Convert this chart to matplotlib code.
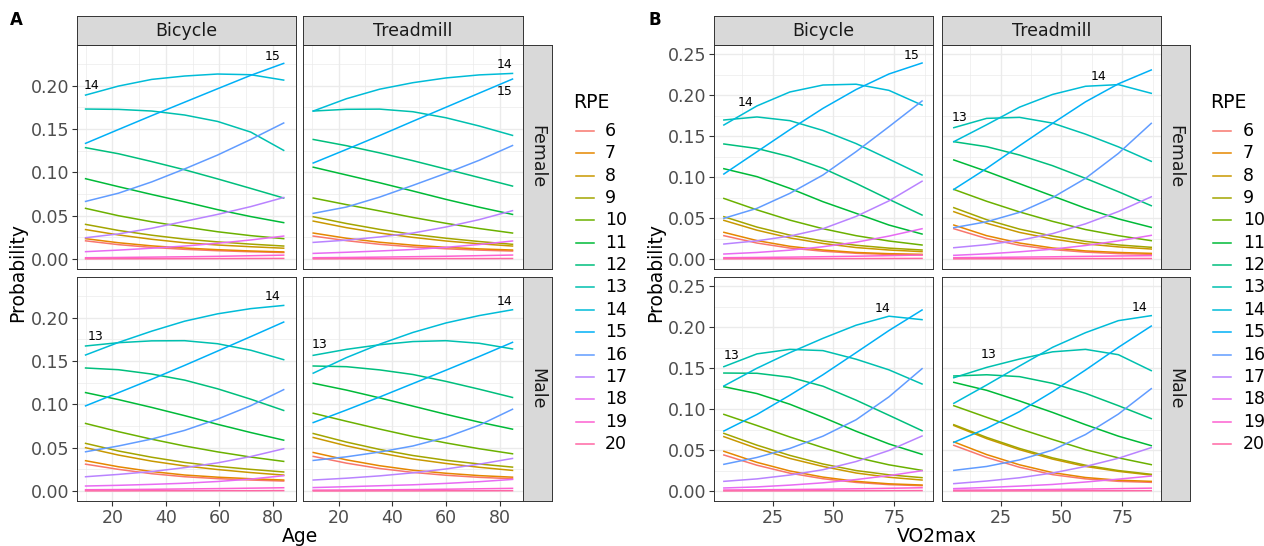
import matplotlib
matplotlib.use("Agg")
import matplotlib.pyplot as plt
from matplotlib.lines import Line2D

W, H = 1264, 546

rpe_levels = [6, 7, 8, 9, 10, 11, 12, 13, 14, 15, 16, 17, 18, 19, 20]
rpe_colors = ["#F8766D", "#E58700", "#C99800", "#A3A500", "#6BB100",
              "#00BA38", "#00BF7D", "#00C0AF", "#00BCD8", "#00B0F6",
              "#619CFF", "#B983FF", "#E76BF3", "#FD61D1", "#FF67A4"]

# x positions where the curves were read
age_bike = [10.0, 22.3, 34.7, 47.0, 59.3, 71.7, 84.0]
age_tread = [10.6, 22.95, 35.3, 47.65, 60.0, 72.35, 84.7]
vo2_bike = [5.0, 18.6, 32.1, 45.7, 59.3, 72.8, 86.4]
vo2_tread = [5.8, 19.3, 32.8, 46.35, 59.9, 73.4, 86.9]

# A: Age, one dict per facet, RPE -> probability
age_bike_female = {
    6: [0.0210, 0.0166, 0.0134, 0.0112, 0.0096, 0.0084, 0.0075],
    7: [0.0235, 0.0188, 0.0152, 0.0127, 0.0108, 0.0093, 0.0082],
    8: [0.0340, 0.0278, 0.0228, 0.0188, 0.0162, 0.0142, 0.0125],
    9: [0.0400, 0.0330, 0.0275, 0.0230, 0.0198, 0.0172, 0.0150],
    10: [0.0585, 0.0500, 0.0430, 0.0370, 0.0315, 0.0270, 0.0235],
    11: [0.0927, 0.0835, 0.0745, 0.0660, 0.0570, 0.0490, 0.0420],
    12: [0.1285, 0.1215, 0.1125, 0.1030, 0.0925, 0.0815, 0.0704],
    13: [0.1731, 0.1727, 0.1708, 0.1662, 0.1588, 0.1465, 0.1254],
    14: [0.1892, 0.1996, 0.2073, 0.2112, 0.2135, 0.2127, 0.2065],
    15: [0.1335, 0.1495, 0.1655, 0.1810, 0.1965, 0.2120, 0.2258],
    16: [0.0665, 0.0760, 0.0890, 0.1040, 0.1200, 0.1380, 0.1570],
    17: [0.0246, 0.0290, 0.0355, 0.0435, 0.0515, 0.0605, 0.0710],
    18: [0.0085, 0.0103, 0.0125, 0.0150, 0.0182, 0.0220, 0.0265],
    19: [0.0015, 0.0018, 0.0022, 0.0026, 0.0031, 0.0038, 0.0045],
    20: [0.0002, 0.0003, 0.0003, 0.0004, 0.0005, 0.0006, 0.0007],
}
age_tread_female = {
    6: [0.0265, 0.0212, 0.0170, 0.0140, 0.0118, 0.0103, 0.0092],
    7: [0.0300, 0.0240, 0.0194, 0.0160, 0.0135, 0.0117, 0.0104],
    8: [0.0438, 0.0362, 0.0300, 0.0250, 0.0208, 0.0176, 0.0150],
    9: [0.0488, 0.0410, 0.0342, 0.0285, 0.0240, 0.0202, 0.0170],
    10: [0.0704, 0.0628, 0.0555, 0.0480, 0.0412, 0.0352, 0.0300],
    11: [0.1060, 0.0970, 0.0880, 0.0785, 0.0688, 0.0598, 0.0515],
    12: [0.1380, 0.1308, 0.1225, 0.1135, 0.1038, 0.0940, 0.0842],
    13: [0.1708, 0.1728, 0.1730, 0.1700, 0.1630, 0.1535, 0.1427],
    14: [0.1708, 0.1850, 0.1960, 0.2035, 0.2090, 0.2125, 0.2142],
    15: [0.1108, 0.1265, 0.1425, 0.1590, 0.1752, 0.1915, 0.2077],
    16: [0.0527, 0.0600, 0.0715, 0.0850, 0.0990, 0.1140, 0.1310],
    17: [0.0192, 0.0218, 0.0255, 0.0300, 0.0370, 0.0455, 0.0558],
    18: [0.0065, 0.0078, 0.0093, 0.0110, 0.0135, 0.0168, 0.0208],
    19: [0.0015, 0.0018, 0.0022, 0.0027, 0.0032, 0.0039, 0.0046],
    20: [0.0002, 0.0003, 0.0003, 0.0004, 0.0005, 0.0005, 0.0006],
}
age_bike_male = {
    6: [0.0310, 0.0250, 0.0200, 0.0165, 0.0143, 0.0127, 0.0115],
    7: [0.0350, 0.0280, 0.0225, 0.0185, 0.0160, 0.0142, 0.0127],
    8: [0.0500, 0.0415, 0.0345, 0.0290, 0.0248, 0.0213, 0.0184],
    9: [0.0550, 0.0462, 0.0390, 0.0330, 0.0285, 0.0250, 0.0220],
    10: [0.0780, 0.0685, 0.0598, 0.0520, 0.0452, 0.0392, 0.0342],
    11: [0.1136, 0.1055, 0.0965, 0.0870, 0.0770, 0.0675, 0.0587],
    12: [0.1420, 0.1400, 0.1350, 0.1280, 0.1180, 0.1060, 0.0930],
    13: [0.1674, 0.1712, 0.1733, 0.1735, 0.1700, 0.1625, 0.1516],
    14: [0.1570, 0.1715, 0.1845, 0.1960, 0.2045, 0.2105, 0.2142],
    15: [0.0983, 0.1135, 0.1290, 0.1450, 0.1615, 0.1782, 0.1950],
    16: [0.0453, 0.0520, 0.0600, 0.0700, 0.0830, 0.0985, 0.1170],
    17: [0.0165, 0.0192, 0.0225, 0.0270, 0.0325, 0.0398, 0.0488],
    18: [0.0058, 0.0066, 0.0077, 0.0090, 0.0110, 0.0138, 0.0177],
    19: [0.0015, 0.0017, 0.0020, 0.0024, 0.0028, 0.0033, 0.0038],
    20: [0.0002, 0.0002, 0.0003, 0.0003, 0.0004, 0.0004, 0.0005],
}
age_tread_male = {
    6: [0.0400, 0.0322, 0.0260, 0.0215, 0.0182, 0.0158, 0.0142],
    7: [0.0445, 0.0360, 0.0292, 0.0240, 0.0205, 0.0178, 0.0160],
    8: [0.0618, 0.0522, 0.0440, 0.0370, 0.0318, 0.0274, 0.0238],
    9: [0.0664, 0.0565, 0.0480, 0.0410, 0.0355, 0.0312, 0.0276],
    10: [0.0898, 0.0805, 0.0715, 0.0630, 0.0555, 0.0488, 0.0430],
    11: [0.1244, 0.1165, 0.1075, 0.0980, 0.0885, 0.0795, 0.0714],
    12: [0.1443, 0.1435, 0.1398, 0.1345, 0.1265, 0.1175, 0.1080],
    13: [0.1566, 0.1635, 0.1688, 0.1725, 0.1735, 0.1705, 0.1640],
    14: [0.1360, 0.1540, 0.1695, 0.1830, 0.1940, 0.2025, 0.2092],
    15: [0.0790, 0.0935, 0.1085, 0.1240, 0.1395, 0.1553, 0.1716],
    16: [0.0353, 0.0395, 0.0450, 0.0520, 0.0620, 0.0760, 0.0944],
    17: [0.0127, 0.0148, 0.0175, 0.0210, 0.0255, 0.0310, 0.0376],
    18: [0.0040, 0.0050, 0.0061, 0.0072, 0.0088, 0.0108, 0.0134],
    19: [0.0010, 0.0012, 0.0014, 0.0017, 0.0021, 0.0026, 0.0031],
    20: [0.0001, 0.0001, 0.0002, 0.0002, 0.0003, 0.0003, 0.0004],
}

# B: VO2max
vo2_bike_female = {
    6: [0.0285, 0.0195, 0.0134, 0.0095, 0.0070, 0.0056, 0.0049],
    7: [0.0326, 0.0225, 0.0155, 0.0110, 0.0080, 0.0065, 0.0057],
    8: [0.0472, 0.0352, 0.0258, 0.0190, 0.0140, 0.0110, 0.0090],
    9: [0.0517, 0.0390, 0.0292, 0.0220, 0.0168, 0.0133, 0.0110],
    10: [0.0740, 0.0600, 0.0475, 0.0370, 0.0285, 0.0220, 0.0171],
    11: [0.1103, 0.1006, 0.0863, 0.0700, 0.0558, 0.0415, 0.0305],
    12: [0.1405, 0.1350, 0.1250, 0.1108, 0.0924, 0.0729, 0.0537],
    13: [0.1698, 0.1735, 0.1690, 0.1570, 0.1410, 0.1220, 0.1026],
    14: [0.1637, 0.1870, 0.2040, 0.2125, 0.2135, 0.2060, 0.1880],
    15: [0.1038, 0.1310, 0.1580, 0.1840, 0.2070, 0.2260, 0.2394],
    16: [0.0497, 0.0619, 0.0802, 0.1026, 0.1311, 0.1616, 0.1930],
    17: [0.0183, 0.0222, 0.0280, 0.0370, 0.0520, 0.0710, 0.0950],
    18: [0.0061, 0.0080, 0.0108, 0.0150, 0.0205, 0.0280, 0.0370],
    19: [0.0016, 0.0019, 0.0023, 0.0028, 0.0034, 0.0041, 0.0049],
    20: [0.0002, 0.0003, 0.0003, 0.0004, 0.0005, 0.0006, 0.0007],
}
vo2_tread_female = {
    6: [0.0370, 0.0250, 0.0168, 0.0115, 0.0084, 0.0066, 0.0057],
    7: [0.0415, 0.0285, 0.0195, 0.0135, 0.0099, 0.0080, 0.0069],
    8: [0.0578, 0.0437, 0.0325, 0.0245, 0.0185, 0.0148, 0.0122],
    9: [0.0627, 0.0480, 0.0365, 0.0280, 0.0215, 0.0172, 0.0143],
    10: [0.0850, 0.0705, 0.0575, 0.0460, 0.0360, 0.0285, 0.0224],
    11: [0.1210, 0.1070, 0.0920, 0.0770, 0.0620, 0.0490, 0.0387],
    12: [0.1433, 0.1372, 0.1270, 0.1140, 0.0985, 0.0822, 0.0651],
    13: [0.1604, 0.1718, 0.1730, 0.1660, 0.1525, 0.1370, 0.1193],
    14: [0.1433, 0.1640, 0.1855, 0.2010, 0.2110, 0.2130, 0.2024],
    15: [0.0850, 0.1107, 0.1384, 0.1657, 0.1920, 0.2140, 0.2309],
    16: [0.0383, 0.0455, 0.0570, 0.0750, 0.0985, 0.1290, 0.1657],
    17: [0.0138, 0.0175, 0.0228, 0.0310, 0.0430, 0.0580, 0.0760],
    18: [0.0045, 0.0063, 0.0088, 0.0120, 0.0165, 0.0222, 0.0289],
    19: [0.0016, 0.0019, 0.0023, 0.0027, 0.0032, 0.0037, 0.0041],
    20: [0.0002, 0.0003, 0.0003, 0.0004, 0.0005, 0.0005, 0.0006],
}
vo2_bike_male = {
    6: [0.0440, 0.0315, 0.0218, 0.0150, 0.0105, 0.0078, 0.0065],
    7: [0.0485, 0.0350, 0.0245, 0.0170, 0.0118, 0.0088, 0.0073],
    8: [0.0664, 0.0520, 0.0398, 0.0300, 0.0220, 0.0168, 0.0134],
    9: [0.0704, 0.0560, 0.0435, 0.0330, 0.0250, 0.0198, 0.0163],
    10: [0.0936, 0.0800, 0.0660, 0.0530, 0.0410, 0.0320, 0.0252],
    11: [0.1274, 0.1190, 0.1060, 0.0900, 0.0730, 0.0575, 0.0448],
    12: [0.1441, 0.1438, 0.1390, 0.1280, 0.1110, 0.0925, 0.0737],
    13: [0.1519, 0.1675, 0.1730, 0.1715, 0.1610, 0.1480, 0.1307],
    14: [0.1283, 0.1500, 0.1690, 0.1865, 0.2025, 0.2135, 0.2093],
    15: [0.0733, 0.0935, 0.1170, 0.1420, 0.1690, 0.1960, 0.2211],
    16: [0.0326, 0.0410, 0.0520, 0.0670, 0.0870, 0.1150, 0.1494],
    17: [0.0118, 0.0148, 0.0195, 0.0260, 0.0360, 0.0495, 0.0672],
    18: [0.0037, 0.0050, 0.0072, 0.0100, 0.0140, 0.0188, 0.0248],
    19: [0.0012, 0.0015, 0.0018, 0.0022, 0.0027, 0.0033, 0.0040],
    20: [0.0001, 0.0002, 0.0002, 0.0003, 0.0003, 0.0004, 0.0005],
}
vo2_tread_male = {
    6: [0.0558, 0.0410, 0.0290, 0.0200, 0.0148, 0.0118, 0.0106],
    7: [0.0600, 0.0445, 0.0320, 0.0225, 0.0165, 0.0132, 0.0118],
    8: [0.0800, 0.0640, 0.0505, 0.0390, 0.0300, 0.0240, 0.0195],
    9: [0.0810, 0.0655, 0.0520, 0.0405, 0.0315, 0.0250, 0.0204],
    10: [0.1042, 0.0900, 0.0760, 0.0630, 0.0505, 0.0405, 0.0322],
    11: [0.1327, 0.1230, 0.1100, 0.0960, 0.0810, 0.0670, 0.0554],
    12: [0.1405, 0.1420, 0.1397, 0.1315, 0.1193, 0.1042, 0.0884],
    13: [0.1384, 0.1510, 0.1612, 0.1700, 0.1730, 0.1665, 0.1470],
    14: [0.1071, 0.1295, 0.1527, 0.1755, 0.1934, 0.2081, 0.2142],
    15: [0.0594, 0.0765, 0.0970, 0.1213, 0.1478, 0.1755, 0.2015],
    16: [0.0252, 0.0300, 0.0380, 0.0500, 0.0690, 0.0940, 0.1250],
    17: [0.0090, 0.0122, 0.0162, 0.0220, 0.0300, 0.0400, 0.0530],
    18: [0.0029, 0.0043, 0.0060, 0.0080, 0.0110, 0.0145, 0.0183],
    19: [0.0010, 0.0012, 0.0015, 0.0019, 0.0024, 0.0029, 0.0035],
    20: [0.0001, 0.0001, 0.0002, 0.0002, 0.0003, 0.0003, 0.0004],
}

# curve labels (text, x, y)
labels_age_bike_female = [("14", 12.4, 0.2008), ("15", 79.9, 0.2340)]
labels_age_tread_female = [("14", 81.9, 0.2246), ("15", 81.9, 0.1938)]
labels_age_bike_male = [("13", 13.7, 0.1785), ("14", 79.9, 0.2246)]
labels_age_tread_male = [("13", 12.9, 0.1689), ("14", 81.9, 0.2192)]
labels_vo2_bike_female = [("14", 14.0, 0.1910), ("15", 82.2, 0.2484)]
labels_vo2_tread_female = [("13", 8.1, 0.1730), ("14", 65.2, 0.2235)]
labels_vo2_bike_male = [("13", 8.1, 0.1660), ("14", 70.2, 0.2231)]
labels_vo2_tread_male = [("13", 20.2, 0.1670), ("14", 82.2, 0.2240)]

BORDER = "#333333"
GRID = "#EBEBEB"
TICK_TXT = "#4D4D4D"


def box(x0, y0, x1, y1):
    return [x0 / W, 1 - y1 / H, (x1 - x0) / W, (y1 - y0) / H]


def strip(fig, x0, y0, x1, y1, text, rotation=0):
    ax = fig.add_axes(box(x0, y0, x1, y1))
    ax.set_facecolor("#D9D9D9")
    ax.set_xticks([])
    ax.set_yticks([])
    for s in ax.spines.values():
        s.set_color(BORDER)
        s.set_linewidth(0.7)
    ax.text(0.5, 0.5, text, ha="center", va="center", rotation=rotation,
            fontsize=12.5, color="#1A1A1A", transform=ax.transAxes)


def panel(fig, rect, xs, data, labels, xlim, ylim, xmaj, xmin_, ymaj, ymin_,
          show_x, show_y):
    ax = fig.add_axes(box(*rect))
    for rpe, col in zip(rpe_levels, rpe_colors):
        ax.plot(xs, data[rpe], color=col, lw=1.1, solid_joinstyle="round")
    for txt, lx, ly in labels:
        ax.text(lx, ly, txt, ha="center", va="center", fontsize=9, color="black")
    ax.set_xlim(xlim)
    ax.set_ylim(ylim)
    ax.set_xticks(xmaj)
    ax.set_xticks(xmin_, minor=True)
    ax.set_yticks(ymaj)
    ax.set_yticks(ymin_, minor=True)
    ax.grid(True, which="major", color=GRID, lw=1.0)
    ax.grid(True, which="minor", color=GRID, lw=0.5)
    ax.set_axisbelow(True)
    ax.tick_params(which="minor", length=0)
    ax.tick_params(which="major", length=3.5, width=0.8, color=BORDER,
                   labelsize=12.5, labelcolor=TICK_TXT, pad=2)
    if not show_x:
        ax.tick_params(axis="x", which="major", length=0, labelbottom=False)
    if not show_y:
        ax.tick_params(axis="y", which="major", length=0, labelleft=False)
    else:
        ax.set_yticklabels(["%.2f" % v for v in ymaj])
    for s in ax.spines.values():
        s.set_color(BORDER)
        s.set_linewidth(0.7)
    return ax


def legend(fig, x_key, x_txt):
    fig.text(x_key / W, 1 - 102 / H, "RPE", fontsize=13.5, color="black",
             ha="left", va="center")
    for i, (rpe, col) in enumerate(zip(rpe_levels, rpe_colors)):
        y = 1 - (131 + i * 22.35) / H
        fig.add_artist(Line2D([(x_key + 3) / W, (x_key + 21) / W], [y, y],
                              color=col, lw=1.1))
        fig.text(x_txt / W, y, str(rpe), fontsize=12.5, color="black",
                 ha="left", va="center")


fig = plt.figure(figsize=(W / 100, H / 100), dpi=100)

rows = [(45, 269), (277, 501)]

# ---- panel A ----
a_cols = [(77, 296), (303, 523)]
a_xlim = (6.8, 88.6)
a_ylim = (-0.0115, 0.247)
a_xmaj = [20, 40, 60, 80]
a_xmin = [10, 30, 50, 70]
a_ymaj = [0.0, 0.05, 0.10, 0.15, 0.20]
a_ymin = [0.025, 0.075, 0.125, 0.175, 0.225]
a_sets = [
    [(age_bike, age_bike_female, labels_age_bike_female),
     (age_tread, age_tread_female, labels_age_tread_female)],
    [(age_bike, age_bike_male, labels_age_bike_male),
     (age_tread, age_tread_male, labels_age_tread_male)],
]
for r, (y0, y1) in enumerate(rows):
    for c, (x0, x1) in enumerate(a_cols):
        xs, data, labs = a_sets[r][c]
        panel(fig, (x0, y0, x1, y1), xs, data, labs, a_xlim, a_ylim,
              a_xmaj, a_xmin, a_ymaj, a_ymin, show_x=(r == 1), show_y=(c == 0))
strip(fig, 77, 16, 296, 45, "Bicycle")
strip(fig, 303, 16, 523, 45, "Treadmill")
strip(fig, 523, 45, 552, 269, "Female", rotation=-90)
strip(fig, 523, 277, 552, 501, "Male", rotation=-90)
legend(fig, 573, 605)
fig.text(300 / W, 1 - 537 / H, "Age", fontsize=13.5, ha="center", va="center")
fig.text(18 / W, 1 - 273 / H, "Probability", fontsize=13.5, ha="center",
         va="center", rotation=90)
fig.text(16 / W, 1 - 20 / H, "A", fontsize=12, fontweight="bold",
         ha="center", va="center")

# ---- panel B ----
b_cols = [(714, 933), (942, 1161)]
b_xlim = (0.95, 90.9)
b_ylim = (-0.0122, 0.2614)
b_xmaj = [25, 50, 75]
b_xmin = [12.5, 37.5, 62.5, 87.5]
b_ymaj = [0.0, 0.05, 0.10, 0.15, 0.20, 0.25]
b_ymin = [0.025, 0.075, 0.125, 0.175, 0.225]
b_sets = [
    [(vo2_bike, vo2_bike_female, labels_vo2_bike_female),
     (vo2_tread, vo2_tread_female, labels_vo2_tread_female)],
    [(vo2_bike, vo2_bike_male, labels_vo2_bike_male),
     (vo2_tread, vo2_tread_male, labels_vo2_tread_male)],
]
for r, (y0, y1) in enumerate(rows):
    for c, (x0, x1) in enumerate(b_cols):
        xs, data, labs = b_sets[r][c]
        panel(fig, (x0, y0, x1, y1), xs, data, labs, b_xlim, b_ylim,
              b_xmaj, b_xmin, b_ymaj, b_ymin, show_x=(r == 1), show_y=(c == 0))
strip(fig, 714, 16, 933, 45, "Bicycle")
strip(fig, 942, 16, 1161, 45, "Treadmill")
strip(fig, 1161, 45, 1190, 269, "Female", rotation=-90)
strip(fig, 1161, 277, 1190, 501, "Male", rotation=-90)
legend(fig, 1210, 1243)
fig.text(937 / W, 1 - 537 / H, "VO2max", fontsize=13.5, ha="center", va="center")
fig.text(656 / W, 1 - 273 / H, "Probability", fontsize=13.5, ha="center",
         va="center", rotation=90)
fig.text(655 / W, 1 - 20 / H, "B", fontsize=12, fontweight="bold",
         ha="center", va="center")

fig.savefig("out.png", dpi=100, facecolor="white")
